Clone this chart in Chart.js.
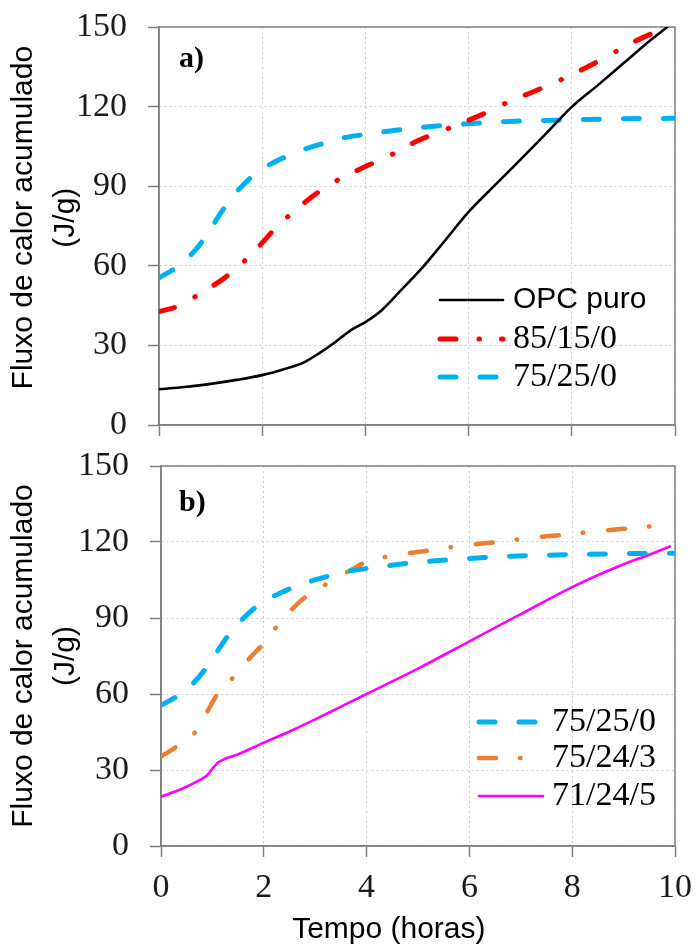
<!DOCTYPE html>
<html>
<head>
<meta charset="utf-8">
<script src="https://cdn.jsdelivr.net/npm/chart.js@4.4.0/dist/chart.umd.min.js"></script>
<style>
  body { margin: 0; background: #fff; }
  #wrap { position: relative; width: 696px; height: 945px; }
  canvas { position: absolute; left: 0; }
  #chartA { top: 0; }
  #chartB { top: 445px; }
</style>
</head>
<body>
<div id="wrap">
  <canvas id="chartA" width="696" height="445"></canvas>
  <canvas id="chartB" width="696" height="500"></canvas>
</div>
<script>
// --- Data ---
// a) OPC puro
const opcTime = [0, 0.5, 1, 1.5, 2, 2.5, 2.8, 3.1, 3.4, 3.7, 4.0, 4.3, 4.7, 5.1, 5.5, 6.0, 6.5, 7.0, 7.5, 8.0, 8.5, 9.0, 9.5, 9.85];
const opcHeat = [13.5, 14.3, 15.5, 17, 18.8, 21.5, 23.5, 27, 31, 35.5, 38.8, 43, 51, 59.2, 68.5, 80.3, 90.2, 99.9, 109.8, 119.9, 128, 136.3, 144.6, 150];

// a) 85/15/0
const mix85Time = [0, 0.4, 0.8, 1.3, 1.8, 2.3, 2.8, 3.3, 3.9, 4.5, 5.0, 5.6, 6.2, 6.8, 7.4, 8.0, 8.6, 9.2, 9.85];
const mix85Heat = [42.7, 45, 49.6, 55.9, 64.5, 75, 83.5, 90.5, 96.5, 101.8, 107, 111.7, 116.5, 122, 126.8, 132, 138, 144.4, 150];

// a) + b) 75/25/0
const mix75Time = [0, 0.35, 0.7, 0.95, 1.2, 1.4, 1.75, 2.0, 2.4, 2.8, 3.2, 3.55, 4.1, 5.0, 5.9, 6.8, 8.0, 9.0, 10];
const mix75Heat = [55.5, 59.6, 65.8, 72.3, 80, 85.5, 92.7, 96.5, 100.6, 103.8, 106.2, 108.1, 109.8, 112, 113.4, 114.4, 115, 115.4, 115.6];

// b) 75/24/3
const mix753Time = [0, 0.3, 0.7, 0.9, 1.1, 1.45, 1.75, 2.0, 2.3, 2.6, 2.9, 3.3, 3.7, 4.0, 4.5, 5.2, 5.8, 6.5, 7.1, 7.8, 8.4, 9.1, 9.7, 9.9];
const mix753Heat = [35.3, 39.2, 45.8, 53, 60, 67.5, 74.7, 80, 87.9, 94.5, 99.7, 104.3, 109, 112.2, 114.6, 116.6, 118.4, 119.9, 121.4, 122.8, 124.1, 125.4, 126.5, 127];

// b) 71/24/5
const mix715Time = [0, 0.4, 0.75, 0.9, 1.0, 1.1, 1.2, 1.5, 2.0, 2.5, 3.0, 3.6, 4.0, 5.0, 6.0, 7.0, 8.0, 9.0, 9.5, 9.9];
const mix715Heat = [19.5, 22.5, 26, 28, 30.5, 32.8, 34, 36.2, 40.8, 45.2, 50, 56, 60, 70, 80.8, 91.5, 102.2, 111.2, 115, 118.2];

// Axis ranges / tick steps
const xRange = [0, 10];
const xStep = 2;
const yRange = [0, 150];
const yStep = 30;

// --- Style ---
const SERIF = "'Liberation Serif', 'Times New Roman', serif";
const SANS = "'Liberation Sans', Arial, sans-serif";
const COLORS = {
  axis: '#808080',
  grid: '#cccccc',
  text: '#1a1a1a',
  black: '#000000',
  red: '#ff0000',
  blue: '#00b0f0',
  orange: '#ed7d31',
  magenta: '#ff00ff'
};
const DASH = {
  solid: [],
  dash: [16, 24],
  dashDot: [16, 23, 0.5, 22],
  dashDotWide: [17, 24, 0.5, 25]
};

const toPoints = (xs, ys) => xs.map((x, i) => ({ x: x, y: ys[i] }));

const series = (label, xs, ys, color, width, dash, legendFont) => ({
  label: label,
  data: toPoints(xs, ys),
  borderColor: color,
  borderWidth: width,
  borderDash: dash,
  borderCapStyle: 'round',
  borderJoinStyle: 'round',
  cubicInterpolationMode: 'monotone',
  pointRadius: 0,
  pointHoverRadius: 0,
  pointBorderWidth: 0,
  fill: false,
  legendFont: legendFont
});

// Scales would otherwise reserve room for overflowing tick labels;
// the layout padding below already places the plot area.
const noScalePadding = s => {
  s.paddingTop = 0;
  s.paddingBottom = 0;
  s.paddingLeft = 0;
  s.paddingRight = 0;
};

// Frame, panel letter and in-plot legend
const panelDecor = {
  id: 'panelDecor',
  beforeDatasetsDraw(chart) {
    const { ctx, chartArea: a } = chart;
    ctx.save();
    ctx.strokeStyle = COLORS.axis;
    ctx.lineWidth = 1.5;
    ctx.strokeRect(a.left, a.top, a.right - a.left, a.bottom - a.top);
    ctx.restore();
  },
  afterDatasetsDraw(chart, args, opts) {
    const { ctx } = chart;
    ctx.save();
    ctx.textBaseline = 'middle';
    ctx.textAlign = 'left';
    ctx.fillStyle = '#000';
    ctx.font = `bold 30px ${SERIF}`;
    ctx.fillText(opts.tag, opts.tagX, opts.tagY);

    chart.data.datasets.forEach((ds, i) => {
      const y = opts.rows[i];
      ctx.strokeStyle = ds.borderColor;
      ctx.lineWidth = ds.borderWidth;
      ctx.lineCap = 'round';
      ctx.setLineDash(ds.borderDash);
      ctx.beginPath();
      ctx.moveTo(opts.lineX0, y);
      ctx.lineTo(opts.lineX1, y);
      ctx.stroke();
      ctx.setLineDash([]);
      ctx.font = ds.legendFont;
      ctx.fillStyle = '#000';
      ctx.fillText(ds.label, opts.textX, y);
    });
    ctx.restore();
  }
};

const buildScales = (showX, yWidth, xHeight, yTitle) => ({
  x: {
    type: 'linear',
    min: xRange[0],
    max: xRange[1],
    ticks: {
      display: showX,
      stepSize: xStep,
      autoSkip: false,
      maxRotation: 0,
      padding: 14,
      color: COLORS.text,
      font: { family: SERIF, size: 34, lineHeight: 1 }
    },
    grid: {
      color: COLORS.grid,
      lineWidth: 1,
      tickLength: 11,
      tickColor: COLORS.axis,
      tickWidth: 1.5,
      tickBorderDash: []
    },
    border: { color: COLORS.axis, width: 1.5, dash: [2, 3] },
    title: {
      display: showX,
      text: 'Tempo (horas)       ',
      color: '#000',
      font: { family: SANS, size: 30, lineHeight: 1 },
      padding: { top: 0, bottom: 0 }
    },
    afterFit: s => { s.height = xHeight; noScalePadding(s); }
  },
  y: {
    min: yRange[0],
    max: yRange[1],
    ticks: {
      stepSize: yStep,
      padding: 21,
      color: COLORS.text,
      font: { family: SERIF, size: 34, lineHeight: 1 }
    },
    grid: {
      color: COLORS.grid,
      lineWidth: 1,
      tickLength: 11,
      tickColor: COLORS.axis,
      tickWidth: 1.5,
      tickBorderDash: []
    },
    border: { color: COLORS.axis, width: 1.5, dash: [2, 3] },
    title: {
      display: true,
      text: yTitle,
      color: '#000',
      font: { family: SANS, size: 30, lineHeight: 1.4 },
      padding: { top: 3, bottom: 0 }
    },
    afterFit: s => { s.width = yWidth; noScalePadding(s); }
  }
});

const makeChart = (id, datasets, scales, padding, decor) => new Chart(document.getElementById(id), {
  type: 'line',
  data: { datasets: datasets },
  options: {
    responsive: false,
    animation: false,
    devicePixelRatio: 1,
    events: [],
    layout: { padding: padding, autoPadding: false },
    scales: scales,
    plugins: {
      legend: { display: false },
      tooltip: { enabled: false },
      panelDecor: decor
    }
  },
  plugins: [panelDecor]
});

// --- Panel a) ---
makeChart('chartA', [
  series('OPC puro', opcTime, opcHeat, COLORS.black, 2.6, DASH.solid, `30px ${SANS}`),
  series('85/15/0', mix85Time, mix85Heat, COLORS.red, 5, DASH.dashDot, `34px ${SERIF}`),
  series('75/25/0', mix75Time, mix75Heat, COLORS.blue, 5, DASH.dash, `34px ${SERIF}`)
], buildScales(false, 159, 20, ['  Fluxo de calor acumulado', '  (J/g)']),
{ top: 27, right: 21, bottom: 0, left: 0 },
{ tag: 'a)', tagX: 179, tagY: 59, rows: [300, 339, 377], lineX0: 440, lineX1: 503, textX: 513 });

// --- Panel b) ---
makeChart('chartB', [
  series('75/25/0', mix75Time, mix75Heat, COLORS.blue, 5, DASH.dash, `34px ${SERIF}`),
  series('75/24/3', mix753Time, mix753Heat, COLORS.orange, 4.5, DASH.dashDotWide, `34px ${SERIF}`),
  series('71/24/5', mix715Time, mix715Heat, COLORS.magenta, 2.6, DASH.solid, `34px ${SERIF}`)
], buildScales(true, 161, 99, ['Fluxo de calor acumulado', '(J/g)']),
{ top: 21, right: 21, bottom: 0, left: 0 },
{ tag: 'b)', tagX: 179, tagY: 58, rows: [277, 313, 351], lineX0: 479, lineX1: 543, textX: 552 });
</script>
</body>
</html>
